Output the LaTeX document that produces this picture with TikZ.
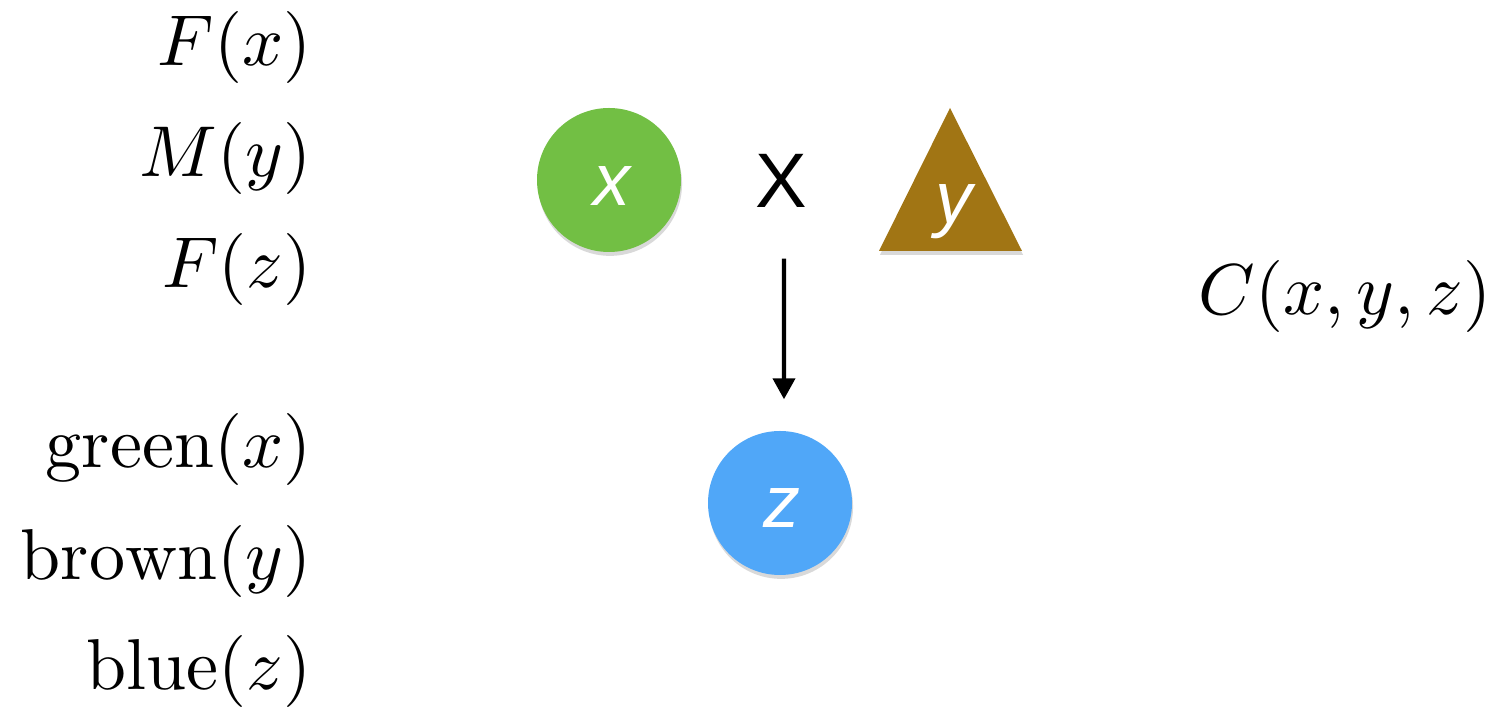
\documentclass[tikz,border=0pt]{standalone}
\usepackage{fontspec}
\newfontfamily\hvfont{Liberation Sans}
\usetikzlibrary{shadows,arrows.meta}
\definecolor{cgreen}{RGB}{114,191,68}
\definecolor{cbrown}{RGB}{161,117,20}
\definecolor{cblue}{RGB}{80,167,248}
\newcommand{\mylbl}[1]{\scalebox{2.05}{$#1$}}
\tikzset{
  lbl/.style={anchor=base east, inner sep=0pt},
  shad/.style={drop shadow={shadow xshift=0.3pt, shadow yshift=-1.1pt, opacity=0.25, fill=black!60}},
  ball/.style={circle, minimum size=1.44cm, inner sep=0pt, shad},
  inletter/.style={anchor=base, inner sep=0pt, text=white, font=\hvfont\itshape\fontsize{21}{24}\selectfont},
  arr/.style={line width=1.15pt, -{Triangle[width=0.22cm,length=0.21cm]}}
}
\begin{document}
\begin{tikzpicture}
\useasboundingbox (0,0) rectangle (14.94,-7.08);
% left labels
\node[lbl] (l1) at (3.12,-0.66) {\mylbl{F(x)}};
\node[lbl] (l2) at (3.12,-1.77) {\mylbl{M(y)}};
\node[lbl] (l3) at (3.12,-2.88) {\mylbl{F(z)}};
\node[lbl] (l4) at (3.12,-4.68) {\mylbl{\mathrm{green}(x)}};
\node[lbl] (l5) at (3.12,-5.80) {\mylbl{\mathrm{brown}(y)}};
\node[lbl] (l6) at (3.12,-6.90) {\mylbl{\mathrm{blue}(z)}};
% right label
\node[lbl] (c) at (14.92,-3.15) {\mylbl{C(x,y,z)}};
% green circle x
\node[ball, fill=cgreen] (gx) at (6.09,-1.80) {};
\node[inletter] (tx) at (6.12,-2.06) {x};
% times sign
\node[anchor=base, inner sep=0pt, font=\hvfont\fontsize{22}{26}\selectfont] (X) at (7.81,-2.08) {X};
% brown triangle y
\path[fill=cbrown, shad]
  (9.50,-1.08) -- (10.22,-2.51) -- (8.79,-2.51) -- cycle;
\node[inletter] (ty) at (9.54,-2.24) {y};
% blue circle z
\node[ball, fill=cblue] (bz) at (7.80,-5.03) {};
\node[inletter] (tz) at (7.82,-5.28) {z};
% arrow
\draw[arr, shorten <=0.5cm, shorten >=0.31cm] ([xshift=0.03cm]X.south) -- ([xshift=0.04cm]bz.north);
\end{tikzpicture}
\end{document}
